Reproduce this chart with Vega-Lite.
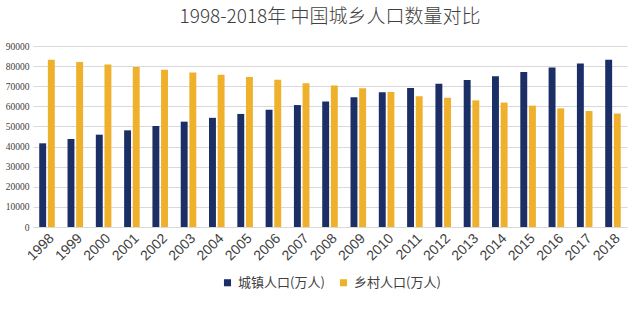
{
  "$schema": "https://vega.github.io/schema/vega-lite/v6.json",
  "autosize": {"type": "none"},
  "padding": {"left": 33, "top": 46, "right": 13, "bottom": 100},
  "width": 594,
  "height": 181,
  "background": "white",
  "title": {"text": "1998-2018年 中国城乡人口数量对比", "font": "Noto Sans CJK SC", "fontSize": 19, "fontWeight": 300, "color": "#404040", "anchor": "middle", "offset": 14},
  "config": {"view": {"stroke": null}},
  "data": {"values": [
    {"year": "1998", "urban": 41608, "rural": 83153},
    {"year": "1999", "urban": 43748, "rural": 82038},
    {"year": "2000", "urban": 45906, "rural": 80837},
    {"year": "2001", "urban": 48064, "rural": 79563},
    {"year": "2002", "urban": 50212, "rural": 78241},
    {"year": "2003", "urban": 52376, "rural": 76851},
    {"year": "2004", "urban": 54283, "rural": 75705},
    {"year": "2005", "urban": 56212, "rural": 74544},
    {"year": "2006", "urban": 58288, "rural": 73160},
    {"year": "2007", "urban": 60633, "rural": 71496},
    {"year": "2008", "urban": 62403, "rural": 70399},
    {"year": "2009", "urban": 64512, "rural": 68938},
    {"year": "2010", "urban": 66978, "rural": 67113},
    {"year": "2011", "urban": 69079, "rural": 64989},
    {"year": "2012", "urban": 71182, "rural": 64222},
    {"year": "2013", "urban": 73111, "rural": 62961},
    {"year": "2014", "urban": 74916, "rural": 61866},
    {"year": "2015", "urban": 77116, "rural": 60346},
    {"year": "2016", "urban": 79298, "rural": 58973},
    {"year": "2017", "urban": 81347, "rural": 57661},
    {"year": "2018", "urban": 83137, "rural": 56401}
  ]},
  "transform": [
    {"fold": ["urban", "rural"], "as": ["key", "value"]},
    {"calculate": "datum.key === 'urban' ? '城镇人口(万人)' : '乡村人口(万人)'", "as": "series"}
  ],
  "mark": {"type": "bar"},
  "encoding": {
    "x": {"field": "year", "type": "nominal", "scale": {"paddingInner": 0.45, "paddingOuter": 0.22},
      "axis": {"title": null, "labelAngle": -45, "labelFontSize": 14, "labelColor": "#404040", "labelFont": "Liberation Sans", "domain": true, "domainColor": "#d9d9d9", "ticks": false, "labelPadding": 4}},
    "xOffset": {"field": "series", "type": "nominal", "sort": ["城镇人口(万人)", "乡村人口(万人)"], "scale": {"paddingInner": 0.2}},
    "y": {"field": "value", "type": "quantitative", "scale": {"domain": [0, 90000]},
      "axis": {"title": null, "format": "d", "values": [0,10000,20000,30000,40000,50000,60000,70000,80000,90000], "labelFontSize": 9.5, "labelColor": "#404040", "labelFont": "Liberation Sans Narrow", "domain": false, "ticks": false, "gridColor": "#d9d9d9", "labelPadding": 4}},
    "color": {"field": "series", "type": "nominal", "sort": ["城镇人口(万人)", "乡村人口(万人)"],
      "scale": {"range": ["#1b2f66", "#efb02c"]},
      "legend": {"title": null, "orient": "none", "legendX": 188, "legendY": 230, "direction": "horizontal", "symbolType": "square", "symbolSize": 50, "labelFontSize": 13, "labelFont": "Noto Sans CJK SC", "labelColor": "#404040", "columnPadding": 12}}
  }
}
